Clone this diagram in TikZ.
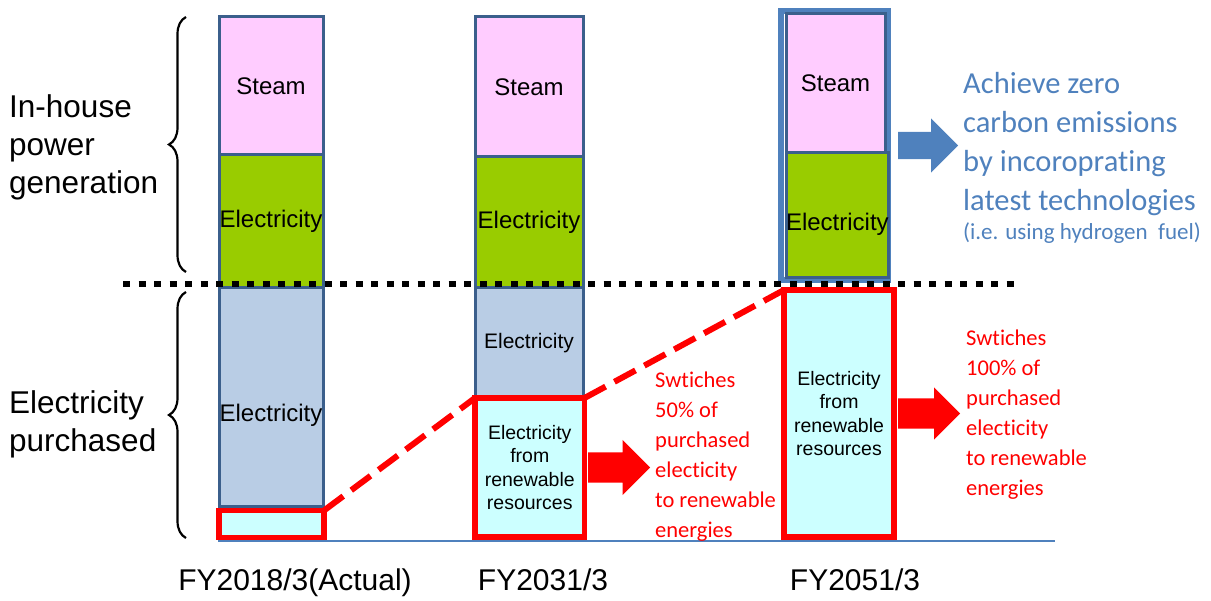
\documentclass[tikz,border=0pt]{standalone}
\usepackage{fontspec}
\setmainfont{Liberation Sans}
\newfontfamily\calfont[Ligatures=NoCommon]{Carlito}
\usetikzlibrary{positioning,shapes.arrows,decorations.pathreplacing}
\definecolor{steamfill}{HTML}{FFCCFF}
\definecolor{genfill}{HTML}{99CC00}
\definecolor{buyfill}{HTML}{B9CDE5}
\definecolor{renewfill}{HTML}{CCFFFF}
\definecolor{barline}{HTML}{3B5F8C}
\definecolor{skyblue}{HTML}{4F81BD}
\def\lowered#1#2{\raisebox{-#1}[0pt][0pt]{#2}}
\begin{document}
\begin{tikzpicture}
[x=1pt,y=-1pt,
 bar/.style={draw=barline, line width=3pt, anchor=north west, inner sep=0pt, outer sep=0pt,
   minimum width=104pt, font=\fontsize{24}{28}\selectfont},
 renew/.style={bar, draw=red, line width=5.5pt, fill=renewfill, align=center,
   font=\fontsize{19.5}{23.5}\selectfont},
 redarrow/.style={single arrow, fill=red, inner xsep=0pt, inner ysep=15pt, minimum height=62pt,
   single arrow head extend=12.5pt},
 note/.style={text=red, anchor=north west, inner sep=0pt, align=left,
   font=\calfont\fontsize{22.5}{30}\selectfont},
 side/.style={anchor=west, inner sep=0pt, align=left, font=\fontsize{31.5}{38}\selectfont},
 year/.style={anchor=base, inner sep=0pt, font=\fontsize{30}{36}\selectfont},
 brace/.style={decorate, decoration={brace, amplitude=17pt}, line width=2.2pt}]
\useasboundingbox (0,0) rectangle (1211,601);

% FY2018/3
\node[bar, fill=steamfill, minimum height=138pt] (steamA) at (219,17) {Steam};
\node[bar, fill=genfill, minimum height=133pt] (genA) at (219,155) {Electricity};
\node[bar, fill=buyfill, minimum height=219pt] (buyA) at (219,288) {\lowered{24pt}{Electricity}};
\node[renew, minimum width=105pt, minimum height=27pt] (renewA) at (219,510.5) {};

% FY2031/3
\node[bar, fill=steamfill, minimum width=108pt, minimum height=140pt] (steamB) at (475,17) {Steam};
\node[bar, fill=genfill, minimum width=108pt, minimum height=131pt] (genB) at (475,157) {Electricity};
\node[bar, fill=buyfill, minimum width=108pt, minimum height=110pt,
  font=\fontsize{21}{25}\selectfont] (buyB) at (475,288) {Electricity};
\node[renew, minimum width=109.5pt, minimum height=139pt] (renewB) at (475,398)
  {Electricity\\from\\renewable\\resources};

% FY2051/3
\node[draw=skyblue, line width=6pt, anchor=north west, outer sep=0pt, inner sep=0pt,
  minimum width=107pt, minimum height=269pt] (frameC) at (781,11) {};
\node[bar, fill=steamfill, minimum width=99pt, minimum height=139pt] (steamC) at (786,14) {Steam};
\node[bar, fill=genfill, minimum width=99pt, minimum height=125pt] (genC) at (786,153) {\lowered{15pt}{Electricity}};
\node[renew, line width=6pt, minimum width=110pt, minimum height=247pt] (renewC) at (784,290)
  {Electricity\\from\\renewable\\resources};

% dividing line and base line
\draw[line width=6pt, dash pattern=on 7pt off 8.5pt] (123,284) -- (1018,284);
\draw[skyblue, line width=2.5pt] (218,541) -- (1055,541);

% shift to renewables
\draw[red, line width=6pt, dash pattern=on 24pt off 10pt] (renewA.north east) -- (renewB.north west);
\draw[red, line width=6pt, dash pattern=on 24pt off 10pt] (renewB.north east) -- (renewC.north west);

\node[redarrow, right=3.5pt of renewB] (arrowB) {};
\node[redarrow, single arrow head extend=11pt, right=4pt of renewC] (arrowC) {};
\node[single arrow, fill=skyblue, inner xsep=0pt, inner ysep=13.5pt, minimum height=60pt,
  single arrow head extend=13.5pt, right=10pt of frameC] (arrowG) {};

\node[note] (noteB) at (655,372) {Swtiches\\50\% of\\purchased\\electicity\\to renewable\\energies};
\node[note] (noteC) at (966,330) {Swtiches\\100\% of\\purchased\\electicity\\to renewable\\energies};

\node[text=skyblue, anchor=north west, inner sep=0pt, align=left,
  font=\calfont\fontsize{30.5}{39}\selectfont] (goal) at (963,72)
  {Achieve zero\\carbon emissions\\by incoroprating\\latest technologies};
\node[text=skyblue, anchor=base west, inner sep=0pt,
  font=\calfont\fontsize{23}{27}\selectfont] (hydro) at (963,240) {(i.e. using hydrogen \ fuel)};

% braces and side labels
\coordinate (upTop) at (186,17);
\coordinate (upBot) at (186,272);
\coordinate (loTop) at (186,292);
\coordinate (loBot) at (186,538);
\draw[brace] (upBot) -- (upTop);
\draw[brace] (loBot) -- (loTop);
\node[side] (house) at (9,147) {In-house\\power\\generation};
\node[side] (bought) at (9,424) {Electricity\\purchased};

% years
\node[year] (yearA) at (295,590) {FY2018/3(Actual)};
\node[year] (yearB) at (543,590) {FY2031/3};
\node[year] (yearC) at (855,590) {FY2051/3};
\end{tikzpicture}
\end{document}
